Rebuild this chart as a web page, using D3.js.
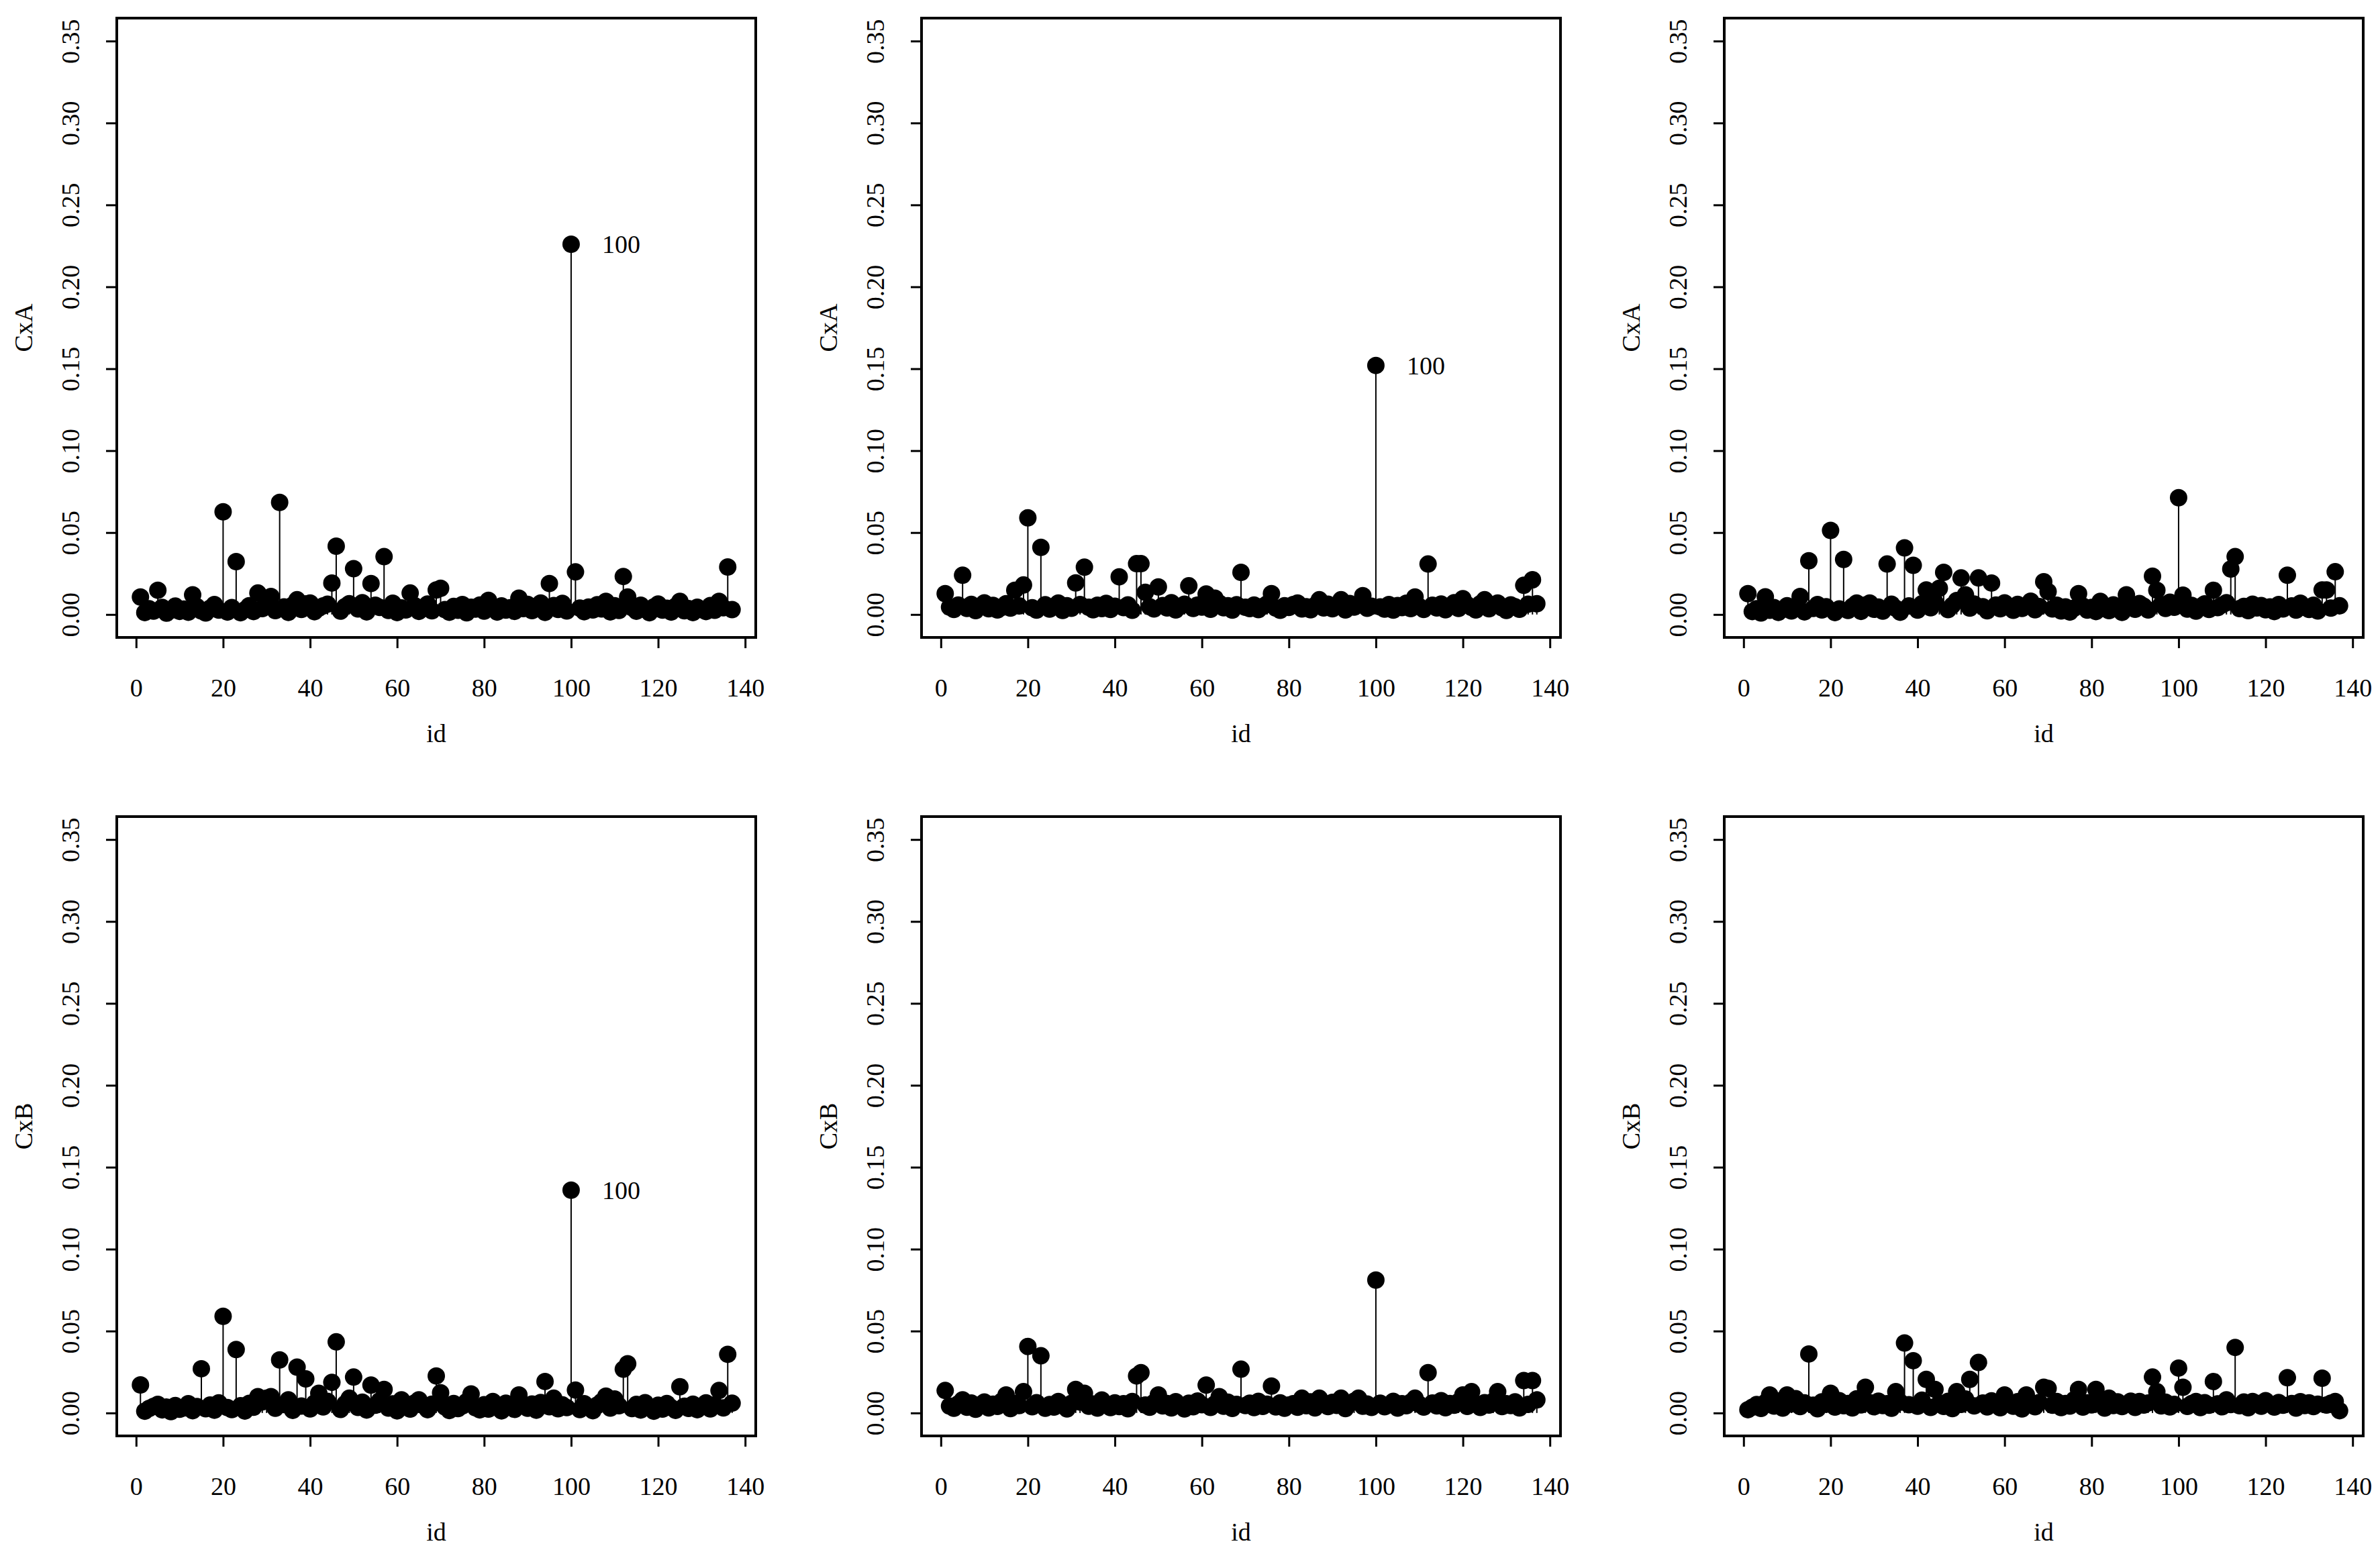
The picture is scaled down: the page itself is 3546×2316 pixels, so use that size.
<!DOCTYPE html>
<html>
<head>
<meta charset="utf-8">
<script src="https://cdn.jsdelivr.net/npm/d3@7"></script>
<style>
  body { margin: 0; background: #fff; }
  text { font-family: "Liberation Serif", "DejaVu Serif", serif; fill: #000; }
</style>
</head>
<body>
<svg id="chart"></svg>
<script>
// observation ids 1..137
const ids = d3.range(1, 138);
const xTicks = [0, 20, 40, 60, 80, 100, 120, 140];
const yTicks = [0, 0.05, 0.10, 0.15, 0.20, 0.25, 0.30, 0.35];

// CxA, first fit
const cxa1 = [
  0.0107, 0.0012, 0.0035, 0.0021, 0.0148, 0.0043, 0.0008, 0.0026, 0.0051, 0.0019,
  0.0033, 0.0014, 0.0120, 0.0047, 0.0022, 0.0009, 0.0038, 0.0061, 0.0027, 0.0627,
  0.0015, 0.0042, 0.0323, 0.0011, 0.0029, 0.0054, 0.0018, 0.0131, 0.0036, 0.0072,
  0.0110, 0.0024, 0.0684, 0.0046, 0.0013, 0.0058, 0.0090, 0.0031, 0.0065, 0.0070,
  0.0017, 0.0039, 0.0052, 0.0063, 0.0192, 0.0417, 0.0021, 0.0048, 0.0066, 0.0280,
  0.0034, 0.0072, 0.0016, 0.0189, 0.0057, 0.0043, 0.0353, 0.0025, 0.0069, 0.0012,
  0.0040, 0.0028, 0.0131, 0.0055, 0.0019, 0.0037, 0.0064, 0.0023, 0.0150, 0.0160,
  0.0030, 0.0014, 0.0049, 0.0026, 0.0061, 0.0010, 0.0044, 0.0033, 0.0058, 0.0021,
  0.0086, 0.0035, 0.0015, 0.0052, 0.0027, 0.0041, 0.0019, 0.0100, 0.0036, 0.0062,
  0.0024, 0.0047, 0.0070, 0.0013, 0.0189, 0.0055, 0.0031, 0.0068, 0.0022, 0.2260,
  0.0260, 0.0039, 0.0017, 0.0045, 0.0028, 0.0060, 0.0034, 0.0080, 0.0016, 0.0053,
  0.0025, 0.0232, 0.0107, 0.0042, 0.0020, 0.0057, 0.0031, 0.0011, 0.0046, 0.0064,
  0.0027, 0.0038, 0.0015, 0.0050, 0.0080, 0.0023, 0.0036, 0.0012, 0.0044, 0.0030,
  0.0018, 0.0055, 0.0026, 0.0080, 0.0041, 0.0290, 0.0030
];

// CxA, second fit
const cxa2 = [
  0.0127, 0.0045, 0.0031, 0.0058, 0.0240, 0.0037, 0.0062, 0.0024, 0.0049, 0.0071,
  0.0035, 0.0056, 0.0028, 0.0043, 0.0066, 0.0039, 0.0148, 0.0052, 0.0180, 0.0590,
  0.0041, 0.0027, 0.0410, 0.0060, 0.0033, 0.0048, 0.0070, 0.0025, 0.0054, 0.0038,
  0.0193, 0.0061, 0.0289, 0.0044, 0.0029, 0.0057, 0.0036, 0.0068, 0.0031, 0.0050,
  0.0230, 0.0042, 0.0059, 0.0026, 0.0310, 0.0310, 0.0135, 0.0047, 0.0034, 0.0168,
  0.0055, 0.0040, 0.0072, 0.0028, 0.0049, 0.0063, 0.0175, 0.0037, 0.0058, 0.0045,
  0.0125, 0.0032, 0.0100, 0.0069, 0.0041, 0.0053, 0.0027, 0.0060, 0.0257, 0.0044,
  0.0036, 0.0058, 0.0030, 0.0049, 0.0065, 0.0127, 0.0039, 0.0026, 0.0054, 0.0043,
  0.0061, 0.0070, 0.0034, 0.0047, 0.0029, 0.0056, 0.0090, 0.0040, 0.0063, 0.0035,
  0.0052, 0.0090, 0.0028, 0.0067, 0.0045, 0.0058, 0.0115, 0.0038, 0.0050, 0.1520,
  0.0046, 0.0033, 0.0061, 0.0027, 0.0055, 0.0042, 0.0069, 0.0036, 0.0107, 0.0048,
  0.0031, 0.0308, 0.0057, 0.0040, 0.0064, 0.0029, 0.0051, 0.0072, 0.0037, 0.0097,
  0.0060, 0.0043, 0.0028, 0.0066, 0.0090, 0.0035, 0.0054, 0.0070, 0.0041, 0.0025,
  0.0059, 0.0047, 0.0032, 0.0178, 0.0063, 0.0212, 0.0066
];

// CxA, third fit
const cxa3 = [
  0.0127, 0.0018, 0.0035, 0.0009, 0.0108, 0.0026, 0.0042, 0.0013, 0.0031, 0.0054,
  0.0022, 0.0040, 0.0110, 0.0016, 0.0328, 0.0037, 0.0061, 0.0028, 0.0047, 0.0513,
  0.0012, 0.0034, 0.0336, 0.0025, 0.0049, 0.0070, 0.0019, 0.0058, 0.0070, 0.0032,
  0.0045, 0.0021, 0.0308, 0.0063, 0.0038, 0.0014, 0.0407, 0.0052, 0.0300, 0.0027,
  0.0066, 0.0150, 0.0041, 0.0075, 0.0160, 0.0257, 0.0030, 0.0056, 0.0085, 0.0223,
  0.0120, 0.0039, 0.0064, 0.0223, 0.0047, 0.0023, 0.0192, 0.0058, 0.0035, 0.0071,
  0.0044, 0.0026, 0.0062, 0.0037, 0.0053, 0.0081, 0.0029, 0.0048, 0.0200, 0.0140,
  0.0034, 0.0057, 0.0022, 0.0046, 0.0015, 0.0039, 0.0127, 0.0051, 0.0027, 0.0043,
  0.0018, 0.0080, 0.0036, 0.0024, 0.0059, 0.0041, 0.0013, 0.0120, 0.0045, 0.0032,
  0.0067, 0.0050, 0.0028, 0.0234, 0.0148, 0.0061, 0.0037, 0.0075, 0.0044, 0.0713,
  0.0118, 0.0033, 0.0056, 0.0021, 0.0048, 0.0065, 0.0031, 0.0148, 0.0042, 0.0058,
  0.0072, 0.0278, 0.0353, 0.0036, 0.0049, 0.0024, 0.0063, 0.0040, 0.0055, 0.0029,
  0.0046, 0.0018, 0.0061, 0.0034, 0.0240, 0.0052, 0.0027, 0.0069, 0.0043, 0.0031,
  0.0057, 0.0022, 0.0150, 0.0150, 0.0039, 0.0261, 0.0053
];

// CxB, first fit
const cxb1 = [
  0.0171, 0.0011, 0.0028, 0.0040, 0.0052, 0.0019, 0.0036, 0.0008, 0.0045, 0.0023,
  0.0031, 0.0057, 0.0014, 0.0039, 0.0270, 0.0026, 0.0048, 0.0017, 0.0062, 0.0590,
  0.0033, 0.0021, 0.0387, 0.0044, 0.0012, 0.0059, 0.0035, 0.0100, 0.0068, 0.0090,
  0.0100, 0.0029, 0.0324, 0.0051, 0.0080, 0.0016, 0.0280, 0.0042, 0.0208, 0.0025,
  0.0060, 0.0120, 0.0037, 0.0071, 0.0187, 0.0434, 0.0022, 0.0055, 0.0090, 0.0219,
  0.0034, 0.0066, 0.0018, 0.0170, 0.0047, 0.0075, 0.0144, 0.0030, 0.0056, 0.0013,
  0.0080, 0.0039, 0.0024, 0.0061, 0.0080, 0.0046, 0.0020, 0.0053, 0.0226, 0.0123,
  0.0037, 0.0015, 0.0058, 0.0027, 0.0043, 0.0070, 0.0116, 0.0032, 0.0019, 0.0050,
  0.0024, 0.0070, 0.0041, 0.0013, 0.0060, 0.0035, 0.0022, 0.0110, 0.0046, 0.0029,
  0.0055, 0.0017, 0.0064, 0.0192, 0.0038, 0.0090, 0.0026, 0.0049, 0.0033, 0.1360,
  0.0140, 0.0021, 0.0057, 0.0036, 0.0014, 0.0048, 0.0069, 0.0103, 0.0030, 0.0085,
  0.0044, 0.0267, 0.0300, 0.0027, 0.0052, 0.0018, 0.0063, 0.0035, 0.0011, 0.0047,
  0.0024, 0.0058, 0.0033, 0.0016, 0.0160, 0.0041, 0.0028, 0.0054, 0.0020, 0.0037,
  0.0062, 0.0025, 0.0049, 0.0137, 0.0031, 0.0358, 0.0060
];

// CxB, second fit
const cxb2 = [
  0.0137, 0.0042, 0.0029, 0.0056, 0.0080, 0.0035, 0.0061, 0.0023, 0.0048, 0.0067,
  0.0031, 0.0054, 0.0040, 0.0072, 0.0110, 0.0027, 0.0058, 0.0045, 0.0130, 0.0406,
  0.0038, 0.0063, 0.0349, 0.0029, 0.0051, 0.0036, 0.0070, 0.0044, 0.0025, 0.0059,
  0.0144, 0.0067, 0.0120, 0.0041, 0.0055, 0.0030, 0.0079, 0.0046, 0.0033, 0.0062,
  0.0039, 0.0057, 0.0026, 0.0070, 0.0226, 0.0246, 0.0048, 0.0035, 0.0064, 0.0110,
  0.0043, 0.0058, 0.0031, 0.0069, 0.0047, 0.0025, 0.0060, 0.0038, 0.0073, 0.0050,
  0.0170, 0.0034, 0.0056, 0.0100, 0.0041, 0.0066, 0.0028, 0.0052, 0.0267, 0.0045,
  0.0060, 0.0033, 0.0071, 0.0040, 0.0054, 0.0164, 0.0037, 0.0062, 0.0029, 0.0048,
  0.0057, 0.0035, 0.0090, 0.0044, 0.0068, 0.0031, 0.0090, 0.0053, 0.0039, 0.0065,
  0.0046, 0.0090, 0.0027, 0.0058, 0.0072, 0.0090, 0.0041, 0.0055, 0.0034, 0.0811,
  0.0060, 0.0038, 0.0049, 0.0071, 0.0030, 0.0057, 0.0044, 0.0066, 0.0090, 0.0052,
  0.0036, 0.0246, 0.0061, 0.0043, 0.0075, 0.0032, 0.0058, 0.0047, 0.0069, 0.0110,
  0.0040, 0.0130, 0.0055, 0.0034, 0.0063, 0.0048, 0.0072, 0.0130, 0.0039, 0.0057,
  0.0045, 0.0068, 0.0031, 0.0198, 0.0052, 0.0198, 0.0080
];

// CxB, third fit
const cxb3 = [
  0.0020, 0.0035, 0.0051, 0.0028, 0.0064, 0.0110, 0.0042, 0.0073, 0.0030, 0.0110,
  0.0055, 0.0087, 0.0039, 0.0062, 0.0360, 0.0047, 0.0026, 0.0068, 0.0053, 0.0120,
  0.0036, 0.0075, 0.0044, 0.0058, 0.0031, 0.0086, 0.0049, 0.0157, 0.0063, 0.0038,
  0.0072, 0.0045, 0.0057, 0.0029, 0.0130, 0.0066, 0.0427, 0.0050, 0.0319, 0.0041,
  0.0078, 0.0205, 0.0034, 0.0144, 0.0059, 0.0040, 0.0071, 0.0027, 0.0130, 0.0052,
  0.0085, 0.0205, 0.0043, 0.0308, 0.0061, 0.0037, 0.0074, 0.0048, 0.0032, 0.0110,
  0.0056, 0.0041, 0.0069, 0.0025, 0.0110, 0.0053, 0.0038, 0.0064, 0.0157, 0.0150,
  0.0047, 0.0070, 0.0033, 0.0058, 0.0042, 0.0081, 0.0144, 0.0036, 0.0062, 0.0049,
  0.0144, 0.0057, 0.0030, 0.0090, 0.0045, 0.0068, 0.0039, 0.0055, 0.0072, 0.0034,
  0.0070, 0.0048, 0.0061, 0.0219, 0.0130, 0.0043, 0.0066, 0.0037, 0.0052, 0.0274,
  0.0157, 0.0040, 0.0058, 0.0070, 0.0033, 0.0063, 0.0047, 0.0192, 0.0056, 0.0038,
  0.0080, 0.0051, 0.0400, 0.0044, 0.0067, 0.0032, 0.0070, 0.0059, 0.0041, 0.0075,
  0.0053, 0.0036, 0.0064, 0.0047, 0.0215, 0.0058, 0.0030, 0.0069, 0.0045, 0.0062,
  0.0039, 0.0054, 0.0212, 0.0048, 0.0060, 0.0070, 0.0014
];

const series = [cxa1, cxa2, cxa3, cxb1, cxb2, cxb3];
const yTitles = ["CxA", "CxA", "CxA", "CxB", "CxB", "CxB"];
const labelled = [[100], [100], [], [100], [], []];

const W = 3546, H = 2316;
const colLeft = [174, 1373, 2569];
const rowTop = [27, 1217];
const boxW = 952, boxH = 923;
const fontSize = 38;

const svg = d3.select("#chart").attr("width", W).attr("height", H);
svg.append("rect").attr("width", W).attr("height", H).attr("fill", "#fff");

// R style 4% padding around the data range
const xDom = [1 - 0.04 * 136, 137 + 0.04 * 136];
const yDom = [0 - 0.04 * 0.35, 0.35 + 0.04 * 0.35];

series.forEach((vals, i) => {
    const left = colLeft[i % 3], top = rowTop[Math.floor(i / 3)];
    const g = svg.append("g").attr("transform", `translate(${left},${top})`);
    const x = d3.scaleLinear().domain(xDom).range([0, boxW]);
    const y = d3.scaleLinear().domain(yDom).range([boxH, 0]);
    const pts = ids.map((id, k) => ({id: id, v: vals[k]}));

    // stems (type = "h")
    g.selectAll("line.stem").data(pts).enter().append("line")
        .attr("class", "stem")
        .attr("x1", d => x(d.id)).attr("x2", d => x(d.id))
        .attr("y1", y(0)).attr("y2", d => y(d.v))
        .attr("stroke", "#000").attr("stroke-width", 2);

    // points (pch = 19)
    g.selectAll("circle").data(pts).enter().append("circle")
        .attr("cx", d => x(d.id)).attr("cy", d => y(d.v))
        .attr("r", 13).attr("fill", "#000");

    // labels for flagged ids
    g.selectAll("text.lab").data(pts.filter(d => labelled[i].includes(d.id))).enter().append("text")
        .attr("class", "lab")
        .attr("x", d => x(d.id) + 46).attr("y", d => y(d.v))
        .attr("dominant-baseline", "central")
        .attr("font-size", fontSize)
        .text(d => d.id);

    // x axis
    const xa = g.append("g").attr("transform", `translate(0,${boxH})`)
        .call(d3.axisBottom(x).tickValues(xTicks).tickSize(16).tickFormat(d3.format("d")));
    xa.select(".domain").remove();
    xa.selectAll(".tick line").attr("stroke-width", 3);
    xa.selectAll(".tick text").attr("y", 88).attr("dy", null)
        .attr("font-size", fontSize).attr("font-family", null);

    // y axis, labels parallel to the axis
    const ya = g.append("g")
        .call(d3.axisLeft(y).tickValues(yTicks).tickSize(16).tickFormat(d3.format(".2f")));
    ya.select(".domain").remove();
    ya.selectAll(".tick line").attr("stroke-width", 3);
    ya.selectAll(".tick text").attr("x", null).attr("dy", null)
        .attr("transform", "translate(-56,0) rotate(-90)")
        .attr("text-anchor", "middle")
        .attr("font-size", fontSize).attr("font-family", null);

    // box
    g.append("rect").attr("width", boxW).attr("height", boxH)
        .attr("fill", "none").attr("stroke", "#000").attr("stroke-width", 4);

    // axis titles
    g.append("text").attr("x", boxW / 2).attr("y", boxH + 156)
        .attr("text-anchor", "middle").attr("font-size", fontSize).text("id");
    g.append("text").attr("transform", `translate(-126,${boxH / 2}) rotate(-90)`)
        .attr("text-anchor", "middle").attr("font-size", fontSize).text(yTitles[i]);
});
</script>
</body>
</html>
